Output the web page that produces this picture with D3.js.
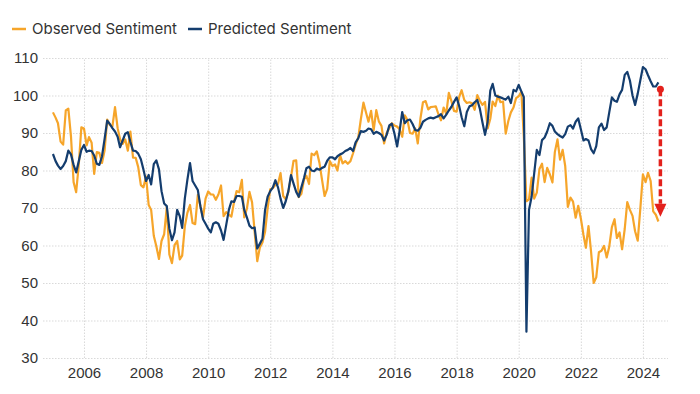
<!DOCTYPE html>
<html>
<head>
<meta charset="utf-8">
<script src="https://cdn.jsdelivr.net/npm/d3@7"></script>
<style>
  body { margin: 0; background: #fff; }
  svg { display: block; font-family: Inter, "Noto Sans", sans-serif; }
  .grid line { stroke: #d9d9d9; stroke-dasharray: 1.5 1.5; }
  .grid .domain { display: none; }
  .axis text { fill: #333; font-size: 15px; }
  .axis .domain, .axis line { display: none; }
</style>
</head>
<body>
<div id="chart"></div>
<script>
// monthly values, Jan 2005 .. Jul 2024
const firstYear = 2005;

const observed = [
  95.5, 94.1, 92.6, 87.7, 86.9, 96.0, 96.5, 89.1, 76.9, 74.2, 81.6, 91.5,
  91.2, 86.7, 88.9, 87.4, 79.1, 84.9, 84.7, 82.0, 85.4, 93.6, 92.1, 91.7,
  96.9, 91.3, 88.4, 87.1, 88.3, 85.3, 90.4, 83.4, 83.4, 80.9, 76.1, 75.5,
  78.4, 70.8, 69.5, 62.6, 59.8, 56.4, 61.2, 63.0, 70.3, 57.6, 55.3, 60.1,
  61.2, 56.3, 57.3, 65.1, 68.7, 70.8, 66.0, 65.7, 73.5, 70.6, 67.4, 72.5,
  74.4, 73.6, 73.6, 72.2, 73.6, 76.0, 67.8, 68.9, 68.2, 67.7, 71.6, 74.5,
  74.2, 77.5, 67.5, 69.8, 74.3, 71.5, 63.7, 55.8, 59.5, 60.8, 63.7, 69.9,
  75.0, 75.3, 76.2, 76.4, 79.3, 73.2, 72.3, 74.3, 78.3, 82.6, 82.7, 72.9,
  73.8, 77.6, 78.6, 76.4, 84.5, 84.1, 85.1, 82.1, 77.5, 73.2, 75.1, 82.5,
  81.2, 81.6, 80.0, 84.1, 81.9, 82.5, 81.8, 82.5, 84.6, 86.9, 88.8, 93.6,
  98.1, 95.4, 93.0, 95.9, 90.7, 96.1, 93.1, 91.9, 87.2, 90.0, 91.3, 92.6,
  92.0, 91.7, 91.0, 89.0, 94.7, 93.5, 90.0, 89.8, 91.2, 87.2, 93.8, 98.2,
  98.5, 96.3, 96.9, 97.0, 97.1, 95.0, 93.4, 96.8, 95.1, 100.7, 98.5, 95.9,
  95.7, 99.7, 101.4, 98.8, 98.0, 98.2, 97.9, 96.2, 100.1, 98.6, 97.5, 98.3,
  91.2, 93.8, 98.4, 97.2, 100.0, 98.2, 98.4, 89.8, 93.2, 95.5, 96.8, 99.3,
  99.8, 101.0, 89.1, 71.8, 72.3, 78.1, 72.5, 74.1, 80.4, 81.8, 76.9, 80.7,
  79.0, 76.8, 84.9, 88.3, 82.9, 85.5, 81.2, 70.3, 72.8, 71.7, 67.4, 70.6,
  67.2, 62.8, 59.4, 65.2, 58.4, 50.0, 51.5, 58.2, 58.6, 59.9, 56.8, 59.7,
  64.9, 67.0, 62.0, 63.5, 59.0, 64.4, 71.6, 69.5, 67.9, 63.8, 61.3, 69.7,
  79.0, 76.9, 79.4, 77.2, 69.1, 68.2, 66.4
];

const predicted = [
  84.4, 82.5, 81.3, 80.4, 81.2, 82.5, 85.3, 84.3, 81.5, 79.5, 82.5, 85.5,
  86.8, 85.0, 85.3, 85.2, 84.0, 81.8, 81.5, 83.8, 88.5, 93.3, 92.4, 91.3,
  90.4, 89.0, 86.2, 88.0, 89.8, 90.2, 87.6, 85.3, 85.2, 84.5, 83.0, 80.3,
  77.2, 78.8, 76.3, 81.7, 82.7, 80.3, 74.5, 71.2, 70.5, 64.5, 61.4, 63.5,
  69.5, 67.8, 64.7, 72.5, 77.5, 82.0, 77.2, 76.0, 74.8, 70.5, 67.0, 65.8,
  64.5, 63.5, 65.8, 66.2, 65.8, 64.0, 61.5, 65.5, 69.5, 71.8, 71.6, 73.2,
  73.2, 73.0, 69.5, 67.5, 65.3, 64.6, 64.8, 59.2, 60.5, 61.8, 69.5, 73.0,
  74.5, 75.5, 77.4, 75.5, 72.5, 70.0, 71.8, 74.5, 78.8, 76.5, 74.3, 73.0,
  75.5, 78.0, 80.6, 81.0, 80.0, 79.8, 80.5, 80.2, 80.7, 81.0, 82.6, 83.5,
  83.5, 83.0, 83.8, 84.3, 84.6, 85.2, 85.5, 86.0, 85.2, 87.5, 88.6, 90.5,
  90.3, 90.6, 91.2, 91.0, 89.8, 90.3, 90.0, 89.5, 88.0, 89.5, 92.0, 92.5,
  89.8, 86.4, 90.5, 95.6, 92.6, 93.4, 93.6, 92.4, 90.8, 90.6, 91.4, 93.0,
  93.5, 93.9, 94.1, 93.9, 94.2, 94.5, 95.0, 93.9, 94.9, 96.0, 97.0, 98.3,
  99.5, 97.1, 94.2, 91.8, 95.6, 97.1, 97.4, 98.2, 98.8, 96.5, 92.8, 89.5,
  93.0, 101.3, 103.1, 100.0, 99.7, 99.5, 99.2, 98.9, 99.7, 98.0, 101.5, 101.1,
  102.8, 101.1, 99.6, 37.0, 69.5, 73.0, 79.2, 85.5, 84.1, 88.1, 88.8, 90.4,
  92.6, 91.9, 90.4, 89.7, 89.2, 88.8, 89.7, 91.7, 92.1, 91.2, 93.0, 93.9,
  91.0, 88.0, 88.4, 88.0, 85.7, 84.6, 86.5, 91.5, 92.5, 90.8, 91.5, 95.5,
  99.5, 98.6, 98.3, 100.3, 101.5, 105.5, 106.3, 104.0, 100.0, 97.5, 100.5, 104.0,
  107.6, 107.0, 105.4, 103.8, 102.4, 102.4, 103.5
];

const yTicks = [30, 40, 50, 60, 70, 80, 90, 100, 110];
const xTickYears = [2006, 2008, 2010, 2012, 2014, 2016, 2018, 2020, 2022, 2024];
const seriesNames = ["Observed Sentiment", "Predicted Sentiment"];
const seriesColors = ["#f6a52a", "#143d6e"];

// gap marked by the red arrow (predicted -> observed)
const gapFrom = 101.7;
const gapTo = 67.7;

const width = 700;
const height = 394;
const margin = { top: 58, right: 32, bottom: 36, left: 43 };

const svg = d3.select("#chart").append("svg")
  .attr("width", width)
  .attr("height", height);

const dates = observed.map((d, i) => new Date(firstYear, i, 1));

const x = d3.scaleTime()
  .domain([new Date(2004, 8, 6), new Date(2024, 9, 22)])
  .range([margin.left, width - margin.right]);

const y = d3.scaleLinear()
  .domain([30, 110])
  .range([height - margin.bottom, margin.top]);

const xTicks = xTickYears.map(yr => new Date(yr, 0, 1));

// grid
svg.append("g")
  .attr("class", "grid")
  .attr("transform", `translate(${margin.left},0)`)
  .call(d3.axisLeft(y).tickValues(yTicks).tickSize(-(width - margin.left - margin.right)).tickFormat(""));

svg.append("g")
  .attr("class", "grid")
  .attr("transform", `translate(0,${height - margin.bottom})`)
  .call(d3.axisBottom(x).tickValues(xTicks).tickSize(-(height - margin.top - margin.bottom)).tickFormat(""));

// axes
svg.append("g")
  .attr("class", "axis")
  .attr("transform", `translate(${margin.left},0)`)
  .call(d3.axisLeft(y).tickValues(yTicks).tickSize(0).tickPadding(5));

svg.append("g")
  .attr("class", "axis")
  .attr("transform", `translate(0,${height - margin.bottom})`)
  .call(d3.axisBottom(x).tickValues(xTicks).tickSize(0).tickPadding(9).tickFormat(d3.timeFormat("%Y")));

// lines
const line = d3.line()
  .x((d, i) => x(dates[i]))
  .y(d => y(d));

[observed, predicted].forEach((s, k) => {
  svg.append("path")
    .datum(s)
    .attr("fill", "none")
    .attr("stroke", seriesColors[k])
    .attr("stroke-width", 2.2)
    .attr("stroke-linejoin", "round")
    .attr("d", line);
});

// red arrow
const ax = x(dates[dates.length - 1]) + 2;
const headLen = 13;
svg.append("circle")
  .attr("cx", ax)
  .attr("cy", y(gapFrom))
  .attr("r", 3.5)
  .attr("fill", "#e3211c");
svg.append("line")
  .attr("x1", ax).attr("x2", ax)
  .attr("y1", y(gapFrom))
  .attr("y2", y(gapTo) - headLen)
  .attr("stroke", "#e3211c")
  .attr("stroke-width", 3.5)
  .attr("stroke-dasharray", "7 3");
svg.append("path")
  .attr("d", `M${ax - 6},${y(gapTo) - headLen}L${ax + 6},${y(gapTo) - headLen}L${ax},${y(gapTo)}Z`)
  .attr("fill", "#e3211c");

// legend
const legendX = [12, 188];
const legend = svg.append("g").attr("transform", "translate(0,29)");
seriesNames.forEach((name, k) => {
  legend.append("line")
    .attr("x1", legendX[k]).attr("x2", legendX[k] + 14)
    .attr("stroke", seriesColors[k])
    .attr("stroke-width", 2.5);
  legend.append("text")
    .attr("x", legendX[k] + 20)
    .attr("dy", "0.35em")
    .attr("fill", "#333")
    .attr("font-size", 15)
    .text(name);
});
</script>
</body>
</html>
